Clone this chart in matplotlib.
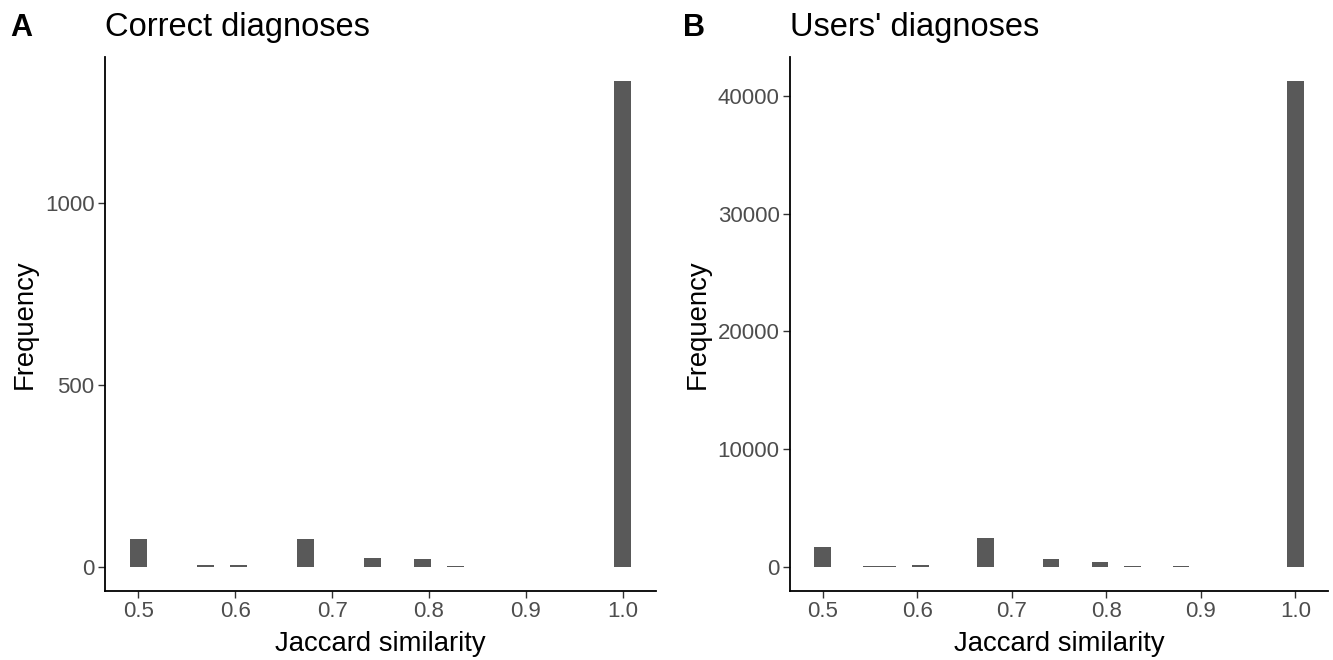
import matplotlib
matplotlib.use("Agg")
import matplotlib.pyplot as plt
import numpy as np

plt.rcParams['font.family'] = ['Liberation Sans', 'DejaVu Sans']

# 30 histogram bins between 0.5 and 1.0 (bin centres), counts
n_bins = 30
bin_lo, bin_hi = 0.5, 1.0

correct_bins = [0, 4, 6, 10, 14, 17, 19, 29]
correct_counts = [76, 5, 5, 76, 24, 20, 2, 1334]

users_bins = [0, 3, 4, 6, 10, 14, 17, 19, 22, 29]
users_counts = [1670, 60, 60, 145, 2440, 620, 425, 40, 40, 41260]

titles = ["Correct diagnoses", "Users' diagnoses"]
panel_tags = ["A", "B"]
x_ticks = [0.5, 0.6, 0.7, 0.8, 0.9, 1.0]
x_ticklabels = ["0.5", "0.6", "0.7", "0.8", "0.9", "1.0"]
y_ticks_a = [0, 500, 1000]
y_ticks_b = [0, 10000, 20000, 30000, 40000]

bar_color = "#595959"

fig = plt.figure(figsize=(13.33, 6.6), dpi=100)
ax_a = fig.add_axes([105 / 1333, 69 / 660, 551 / 1333, 534 / 660])
ax_b = fig.add_axes([790 / 1333, 69 / 660, 538 / 1333, 534 / 660])

binwidth = (bin_hi - bin_lo) / (n_bins - 1)
centres = np.linspace(bin_lo, bin_hi, n_bins)


def draw_panel(ax, bins, counts, title, yticks):
    full = np.zeros(n_bins)
    full[bins] = counts
    ax.bar(centres, full, width=binwidth, color=bar_color, linewidth=0)

    lo = bin_lo - binwidth / 2
    hi = bin_hi + binwidth / 2
    pad = (hi - lo) * 0.05
    ax.set_xlim(lo - pad, hi + pad)
    top = max(counts)
    ax.set_ylim(-0.05 * top, 1.05 * top)

    ax.set_xticks(x_ticks)
    ax.set_xticklabels(x_ticklabels)
    ax.set_yticks(yticks)
    ax.set_yticklabels([str(t) for t in yticks])

    for side in ["top", "right"]:
        ax.spines[side].set_visible(False)
    for side in ["left", "bottom"]:
        ax.spines[side].set_linewidth(1.3)
        ax.spines[side].set_color("black")

    ax.tick_params(axis="both", length=5, width=1.0, color="#333333",
                   labelsize=16, labelcolor="#4D4D4D", pad=2.5)
    ax.set_xlabel("Jaccard similarity", fontsize=19.8, labelpad=6.5)
    ax.set_ylabel("Frequency", fontsize=19.8, labelpad=5)
    ax.set_title(title, loc="left", fontsize=23.5, pad=15)


draw_panel(ax_a, correct_bins, correct_counts, titles[0], y_ticks_a)
draw_panel(ax_b, users_bins, users_counts, titles[1], y_ticks_b)

fig.text(10 / 1333, 1 - 36 / 660, panel_tags[0], fontsize=22, fontweight="bold", va="baseline")
fig.text(683 / 1333, 1 - 36 / 660, panel_tags[1], fontsize=22, fontweight="bold", va="baseline")

fig.savefig("out.png", dpi=100)
